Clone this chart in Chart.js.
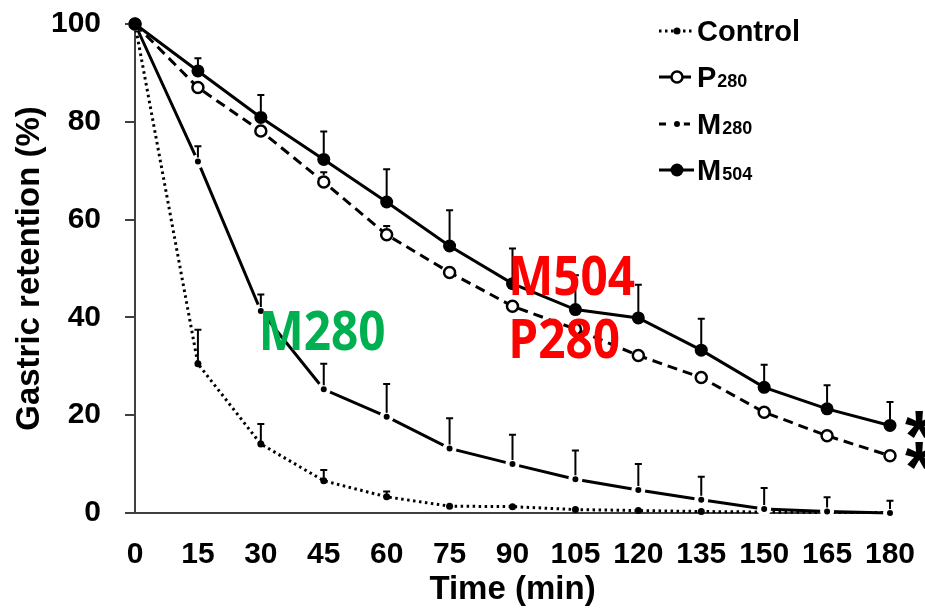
<!DOCTYPE html>
<html>
<head>
<meta charset="utf-8">
<script src="https://cdn.jsdelivr.net/npm/chart.js@4.4.1/dist/chart.umd.min.js"></script>
<style>
    html, body { margin: 0; padding: 0; background: #fff; }
</style>
</head>
<body>
<canvas id="retentionChart" width="925" height="610"></canvas>
<script>
// sampling times (min)
const times = [0, 15, 30, 45, 60, 75, 90, 105, 120, 135, 150, 165, 180];

// gastric retention (%) means
const control = [100, 30.5, 14.1, 6.6, 3.3, 1.4, 1.3, 0.7, 0.5, 0.3, 0.2, 0.1, 0.1];
const p280 = [100, 87.0, 78.1, 67.7, 56.9, 49.2, 42.3, 37.6, 32.2, 27.7, 20.6, 15.8, 11.7];
const m280 = [100, 71.9, 41.3, 25.3, 19.7, 13.2, 10.0, 6.9, 4.7, 2.7, 0.8, 0.3, 0.0];
const m504 = [100, 90.4, 80.9, 72.3, 63.6, 54.6, 46.9, 41.6, 39.9, 33.3, 25.7, 21.3, 17.9];

// upper error bars (SD)
const controlSd = [0, 7.0, 4.1, 2.2, 1.1, 0.4, 0.4, 0.3, 0.2, 0.1, 0.1, 0, 0];
const p280Sd = [0, 1.0, 1.2, 2.0, 1.8, 1.6, 1.5, 1.5, 1.0, 1.0, 1.0, 1.0, 1.0];
const m280Sd = [0, 3.1, 3.4, 5.2, 6.7, 6.2, 6.0, 5.9, 5.3, 4.7, 4.3, 2.9, 2.5];
const m504Sd = [0, 2.6, 4.6, 5.7, 6.7, 7.3, 7.2, 7.0, 6.8, 6.4, 4.6, 4.8, 4.8];

// text labels placed in the plot (data coordinates)
const notes = [
    { text: 'M280', t: 29.5, v: 33.3, color: '#00B050' },
    { text: 'M504', t: 89, v: 44.5, color: '#FF0000' },
    { text: 'P280', t: 89, v: 31.6, color: '#FF0000' }
];
const starred = ['M504', 'P280'];

const yTicks = [0, 20, 40, 60, 80, 100];

const AXIS = '#404040';
const FONT = '"Liberation Sans", Arial, sans-serif';

function pts(values) {
    return values.map((v, i) => ({ x: times[i], y: v }));
}

// draws the upward SD bars with a small cap
const errorBars = {
    id: 'errorBars',
    afterDatasetsDraw(chart) {
        const ctx = chart.ctx;
        const xs = chart.scales.x, ys = chart.scales.y;
        ctx.save();
        ctx.strokeStyle = '#000';
        ctx.lineWidth = 2;
        chart.data.datasets.forEach(ds => {
            ds.data.forEach((p, i) => {
                const sd = ds.sd[i];
                if (!sd) return;
                const x = xs.getPixelForValue(p.x);
                const y0 = ys.getPixelForValue(p.y) - ds.barStart;
                const y1 = ys.getPixelForValue(p.y + sd);
                if (y1 >= y0 - 1) return;
                ctx.beginPath();
                ctx.moveTo(x, y0);
                ctx.lineTo(x, y1);
                ctx.moveTo(x - 3.5, y1);
                ctx.lineTo(x + 3.5, y1);
                ctx.stroke();
            });
        });
        ctx.restore();
    }
};

// legend, coloured labels and asterisks
const extras = {
    id: 'extras',
    afterDraw(chart) {
        const ctx = chart.ctx;
        const xs = chart.scales.x, ys = chart.scales.y;
        ctx.save();

        // legend
        const rows = [
            { ds: 0, y: 31, dash: [2.5, 3.5] },
            { ds: 1, y: 77, dash: [12, 8] },
            { ds: 2, y: 124, dash: [7, 5] },
            { ds: 3, y: 170, dash: [] }
        ];
        rows.forEach(r => {
            const ds = chart.data.datasets[r.ds];
            ctx.strokeStyle = '#000';
            ctx.lineWidth = 3;
            ctx.setLineDash(r.dash);
            ctx.beginPath();
            ctx.moveTo(659, r.y);
            ctx.lineTo(694, r.y);
            ctx.stroke();
            ctx.setLineDash([]);
            ctx.beginPath();
            ctx.arc(677, r.y, ds.pointRadius, 0, Math.PI * 2);
            ctx.fillStyle = ds.pointBackgroundColor;
            ctx.fill();
            if (ds.pointBorderWidth) {
                ctx.lineWidth = ds.pointBorderWidth;
                ctx.strokeStyle = ds.pointBorderColor;
                ctx.stroke();
            }
            const m = ds.label.match(/^([A-Za-z]+)(\d*)$/);
            ctx.fillStyle = '#000';
            ctx.textBaseline = 'alphabetic';
            ctx.textAlign = 'left';
            ctx.font = 'bold 29px ' + FONT;
            ctx.fillText(m[1], 697, r.y + 10);
            if (m[2]) {
                const w = ctx.measureText(m[1]).width;
                ctx.font = 'bold 18px ' + FONT;
                ctx.fillText(m[2], 697 + w + 1, r.y + 10);
            }
        });

        // coloured notes
        notes.forEach(n => {
            const x = xs.getPixelForValue(n.t);
            const y = ys.getPixelForValue(n.v);
            ctx.save();
            ctx.translate(x, y);
            ctx.scale(0.9, 1);
            ctx.font = 'bold 53px "Open Sans", ' + FONT;
            ctx.fillStyle = n.color;
            ctx.textAlign = 'left';
            ctx.textBaseline = 'alphabetic';
            ctx.fillText(n.text, 0, 0);
            ctx.restore();
        });

        // significance asterisks
        ctx.fillStyle = '#000';
        ctx.font = 'bold 72px ' + FONT;
        ctx.textAlign = 'left';
        ctx.textBaseline = 'alphabetic';
        chart.data.datasets.forEach(ds => {
            if (!starred.includes(ds.label)) return;
            const last = ds.data[ds.data.length - 1];
            const x = xs.getPixelForValue(last.x) + 15;
            const y = ys.getPixelForValue(last.y);
            ctx.fillText('*', x, y + 36);
        });
        ctx.restore();
    }
};

new Chart(document.getElementById('retentionChart'), {
    type: 'line',
    data: {
        datasets: [
            {
                label: 'Control',
                data: pts(control),
                sd: controlSd,
                barStart: 3,
                borderColor: '#000',
                borderWidth: 3,
                borderDash: [2.5, 3.5],
                pointRadius: 3.5,
                pointBackgroundColor: '#000',
                pointBorderWidth: 0,
                order: 4
            },
            {
                label: 'P280',
                data: pts(p280),
                sd: p280Sd,
                barStart: 7,
                borderColor: '#000',
                borderWidth: 3,
                borderDash: [10, 6],
                pointRadius: 5.5,
                pointBackgroundColor: '#fff',
                pointBorderColor: '#000',
                pointBorderWidth: 2.5,
                order: 2
            },
            {
                label: 'M280',
                data: pts(m280),
                sd: m280Sd,
                barStart: 4,
                borderColor: '#000',
                borderWidth: 3,
                pointRadius: 5,
                pointBackgroundColor: '#000',
                pointBorderColor: '#fff',
                pointBorderWidth: 4,
                order: 3
            },
            {
                label: 'M504',
                data: pts(m504),
                sd: m504Sd,
                barStart: 6,
                borderColor: '#000',
                borderWidth: 3,
                pointRadius: 6.5,
                pointBackgroundColor: '#000',
                pointBorderWidth: 0,
                order: 1
            }
        ]
    },
    options: {
        responsive: false,
        animation: false,
        layout: {
            padding: { top: 24, right: 35, left: 0, bottom: 0 }
        },
        datasets: {
            line: { tension: 0, clip: false }
        },
        plugins: {
            legend: { display: false },
            tooltip: { enabled: false }
        },
        scales: {
            x: {
                type: 'linear',
                min: 0,
                max: 180,
                afterFit: s => {
                    s.height = 97;
                    s.paddingLeft = 0;
                    s.paddingRight = 0;
                },
                afterBuildTicks: s => { s.ticks = times.map(v => ({ value: v })); },
                grid: { display: false, drawTicks: false },
                border: { display: true, color: AXIS, width: 2 },
                ticks: {
                    padding: 24,
                    color: '#000',
                    maxRotation: 0,
                    autoSkip: false,
                    font: { family: FONT, size: 30, weight: 'bold' }
                },
                title: {
                    display: true,
                    text: 'Time (min)',
                    color: '#000',
                    padding: { top: 0, bottom: 0 },
                    font: { family: FONT, size: 33, weight: 'bold' }
                }
            },
            y: {
                min: 0,
                max: 100,
                afterFit: s => {
                    s.width = 135;
                    s.paddingTop = 0;
                    s.paddingBottom = 0;
                },
                afterBuildTicks: s => { s.ticks = yTicks.map(v => ({ value: v })); },
                grid: {
                    drawOnChartArea: false,
                    drawTicks: true,
                    tickLength: 10,
                    color: AXIS,
                    lineWidth: 2
                },
                border: { display: true, color: AXIS, width: 2 },
                ticks: {
                    padding: 24,
                    color: '#000',
                    font: { family: FONT, size: 30, weight: 'bold' }
                },
                title: {
                    display: true,
                    text: 'Gastric retention (%)',
                    color: '#000',
                    padding: { top: 10, bottom: 0 },
                    font: { family: FONT, size: 33, weight: 'bold' }
                }
            }
        }
    },
    plugins: [errorBars, extras]
});
</script>
</body>
</html>
